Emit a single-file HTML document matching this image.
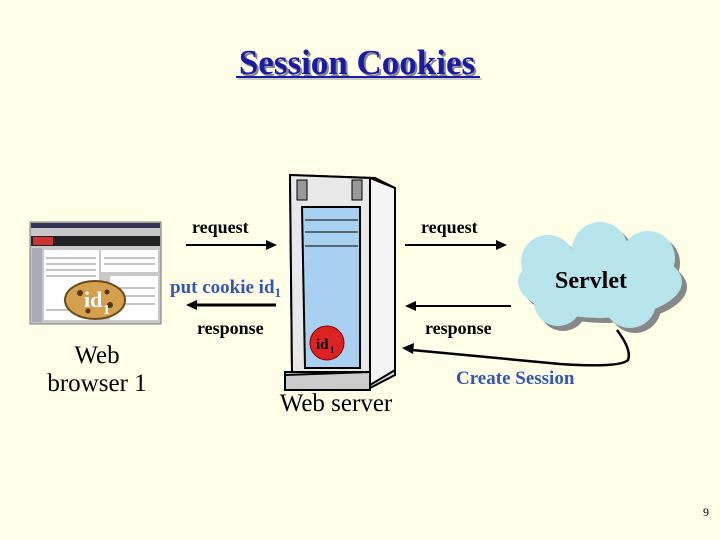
<!DOCTYPE html>
<html><head><style>
body{margin:0;background:#FFFFE8;}
svg{display:block;font-family:"Liberation Serif",serif;font-weight:bold;}
</style></head><body>
<svg width="720" height="540" viewBox="0 0 720 540">
<rect width="720" height="540" fill="#FFFFE8"/>
<text x="359" y="76" font-size="35" fill="#888" text-anchor="middle">Session Cookies</text>
<text x="357" y="74" font-size="35" fill="#1a1aa8" text-anchor="middle">Session Cookies</text>
<line x1="236" y1="77" x2="480" y2="77" stroke="#1a1aa8" stroke-width="2"/>
<line x1="238" y1="79" x2="482" y2="79" stroke="#999" stroke-width="1"/>

<!-- browser -->
<rect x="30" y="222" width="131" height="102" fill="#c8c8c8" stroke="#777"/>
<rect x="31" y="223" width="129" height="5" fill="#335"/>
<rect x="31" y="236" width="129" height="10" fill="#222"/>
<rect x="33" y="237" width="20" height="8" fill="#c33"/>
<rect x="32" y="248" width="10" height="74" fill="#aab"/>
<rect x="44" y="250" width="55" height="70" fill="#fff"/>
<rect x="101" y="250" width="57" height="22" fill="#fff"/>
<rect x="110" y="276" width="48" height="44" fill="#fff"/>
<g stroke="#888" stroke-width="1">
<line x1="46" y1="258" x2="96" y2="258"/><line x1="46" y1="264" x2="96" y2="264"/><line x1="46" y1="270" x2="96" y2="270"/><line x1="46" y1="276" x2="96" y2="276"/><line x1="46" y1="310" x2="96" y2="310"/><line x1="104" y1="258" x2="155" y2="258"/><line x1="104" y1="264" x2="155" y2="264"/><line x1="113" y1="288" x2="155" y2="288"/><line x1="113" y1="296" x2="155" y2="296"/><line x1="113" y1="304" x2="155" y2="304"/>
</g>
<ellipse cx="95" cy="300" rx="30" ry="19" fill="#d4a050" stroke="#6b4a1a" stroke-width="2"/>
<circle cx="80" cy="293" r="3" fill="#5a3410"/><circle cx="110" cy="305" r="3" fill="#5a3410"/><circle cx="88" cy="311" r="2.5" fill="#5a3410"/><circle cx="107" cy="292" r="2.5" fill="#5a3410"/>
<text x="84" y="307" font-size="22" fill="#fff">id</text><text x="103" y="314" font-size="14" fill="#fff">1</text>
<text x="97" y="363" font-size="25" text-anchor="middle" font-weight="normal">Web</text>
<text x="97" y="391" font-size="25" text-anchor="middle" font-weight="normal">browser 1</text>

<!-- left arrows -->
<text x="192" y="233" font-size="18">request</text>
<line x1="186" y1="245" x2="270" y2="245" stroke="#000" stroke-width="2"/>
<polygon points="277,245 266,240 266,250" fill="#000"/>
<text x="170" y="293" font-size="19" fill="#3355bb">put cookie id<tspan font-size="13" dy="4">1</tspan></text>
<line x1="193" y1="305" x2="276" y2="305" stroke="#000" stroke-width="3"/>
<polygon points="186,305 197,300 197,310" fill="#000"/>
<text x="197" y="334" font-size="18">response</text>

<!-- server -->
<polygon points="290,175 375,178 395,188 395,375 370,388 285,390 285,372 292,372" fill="#ddd" stroke="#000" stroke-width="2"/>
<polygon points="290,175 370,178 370,372 292,372" fill="#e8e8e8" stroke="#000" stroke-width="2"/>
<polygon points="370,178 395,188 395,370 370,385" fill="#f4f4f4" stroke="#000" stroke-width="2"/>
<rect x="297" y="180" width="10" height="20" fill="#999" stroke="#000"/>
<rect x="352" y="180" width="10" height="20" fill="#999" stroke="#000"/>
<polygon points="302,207 360,207 360,368 305,368" fill="#a8d0f0" stroke="#000" stroke-width="2"/>
<line x1="305" y1="220" x2="358" y2="220" stroke="#000"/>
<line x1="305" y1="232" x2="358" y2="232" stroke="#000"/>
<line x1="305" y1="246" x2="358" y2="246" stroke="#000"/>
<circle cx="327" cy="343" r="17" fill="#dd2222" stroke="#800" stroke-width="1"/>
<text x="316" y="349" font-size="15">id</text><text x="330" y="353" font-size="9">1</text>
<polygon points="285,375 370,372 370,390 285,390" fill="#ccc" stroke="#000" stroke-width="2"/>
<text x="336" y="411" font-size="25" text-anchor="middle" font-weight="normal">Web server</text>

<!-- right arrows -->
<text x="421" y="233" font-size="18">request</text>
<line x1="405" y1="245" x2="500" y2="245" stroke="#000" stroke-width="2"/>
<polygon points="507,245 496,240 496,250" fill="#000"/>
<line x1="413" y1="306" x2="511" y2="306" stroke="#000" stroke-width="2"/>
<polygon points="405,306 416,301 416,311" fill="#000"/>
<text x="425" y="334" font-size="18">response</text>
<path d="M617,330 Q632,350 628,360 Q620,368 560,364 L412,350" fill="none" stroke="#000" stroke-width="2.5"/>
<polygon points="402,348 414,343 413,354" fill="#000"/>
<text x="456" y="384" font-size="19" fill="#3355bb">Create Session</text>

<!-- cloud -->
<g transform="translate(5,5)" fill="#888">
<ellipse cx="600" cy="282" rx="82" ry="36"/><circle cx="548" cy="262" r="27"/><circle cx="600" cy="250" r="28"/><circle cx="648" cy="258" r="27"/><circle cx="558" cy="302" r="24"/><circle cx="630" cy="302" r="26"/>
</g>
<g fill="#b8e4ec">
<ellipse cx="600" cy="282" rx="82" ry="36"/><circle cx="548" cy="262" r="27"/><circle cx="600" cy="250" r="28"/><circle cx="648" cy="258" r="27"/><circle cx="558" cy="302" r="24"/><circle cx="630" cy="302" r="26"/>
</g>
<text x="591" y="288" font-size="24" text-anchor="middle">Servlet</text>

<text x="709" y="516" font-size="12" text-anchor="end" font-weight="normal">9</text>
</svg>
</body></html>
